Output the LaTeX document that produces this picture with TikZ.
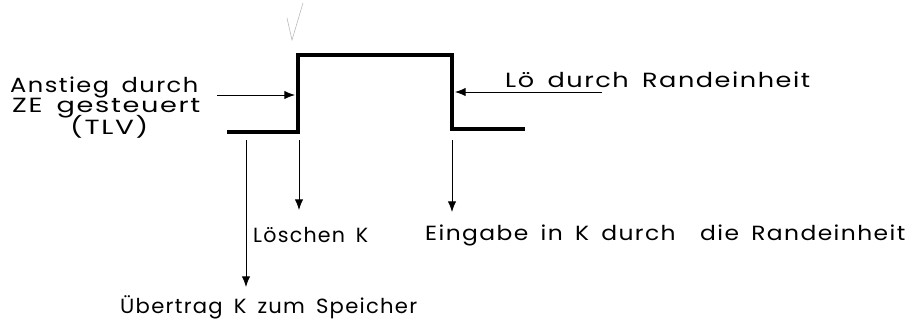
\documentclass[tikz,border=0pt]{standalone}
\usepackage{fontspec}
\setmainfont{Poppins}[LetterSpace=6,WordSpace=1.6]
\usetikzlibrary{arrows.meta}
\newcommand{\fitw}[2]{\resizebox{#1}{\height}{#2}}
\begin{document}
\begin{tikzpicture}[x=0.03cm,y=-0.03cm,
  pulse/.style={line width=3.2pt, line join=miter},
  sig/.style={line width=0.7pt, -{Latex[length=9pt,width=7pt]}},
  lbl/.style={inner sep=0pt, anchor=base west, font=\fontsize{17.5}{20}\selectfont},
  stray/.style={gray!55, line width=0.5pt, line cap=round}]
\useasboundingbox (0,0) rectangle (914,326);
% stray pencil mark
\draw[stray] (287,18) -- (292,40) -- (303,3);
% pulse
\draw[pulse] (227,132) coordinate (p0) -- (298,132) coordinate (p1)
  -- (298,55) coordinate (p2) -- (452,55) coordinate (p3)
  -- (452,129) coordinate (p4) -- (525,129) coordinate (p5);
% side arrows
\coordinate (aL) at (217,95);
\coordinate (aLe) at (295,95);
\coordinate (aR) at (602,92);
\coordinate (aRe) at (455,92);
\draw[sig] (aL) -- (aLe);
\draw[sig] (aR) -- (aRe);
% down arrows
\coordinate (d1) at (246,140); \coordinate (d1e) at (246,287);
\coordinate (d2) at (299,140); \coordinate (d2e) at (299,210);
\coordinate (d3) at (452,140); \coordinate (d3e) at (452,212);
\draw[sig] (d1) -- (d1e);
\draw[sig] (d2) -- (d2e);
\draw[sig] (d3) -- (d3e);
% labels
\node[lbl] (t1) at (10,92) {\fitw{188\dimexpr0.3mm\relax}{Anstieg durch}};
\node[lbl] (t2) at (12,112) {\fitw{188\dimexpr0.3mm\relax}{ZE gesteuert}};
\node[lbl] (t3) at (70,134) {\fitw{78\dimexpr0.3mm\relax}{(TLV)}};
\node[lbl] (t4) at (505,87) {\fitw{305\dimexpr0.3mm\relax}{Lö durch Randeinheit}};
\node[lbl] (t5) at (253,242) {\fitw{115\dimexpr0.3mm\relax}{Löschen K}};
\node[lbl] (t6) at (425,240) {\fitw{480\dimexpr0.3mm\relax}{Eingabe in K durch\ \ die Randeinheit}};
\node[lbl] (t7) at (120,313) {\fitw{297\dimexpr0.3mm\relax}{Übertrag K zum Speicher}};
\end{tikzpicture}
\end{document}
